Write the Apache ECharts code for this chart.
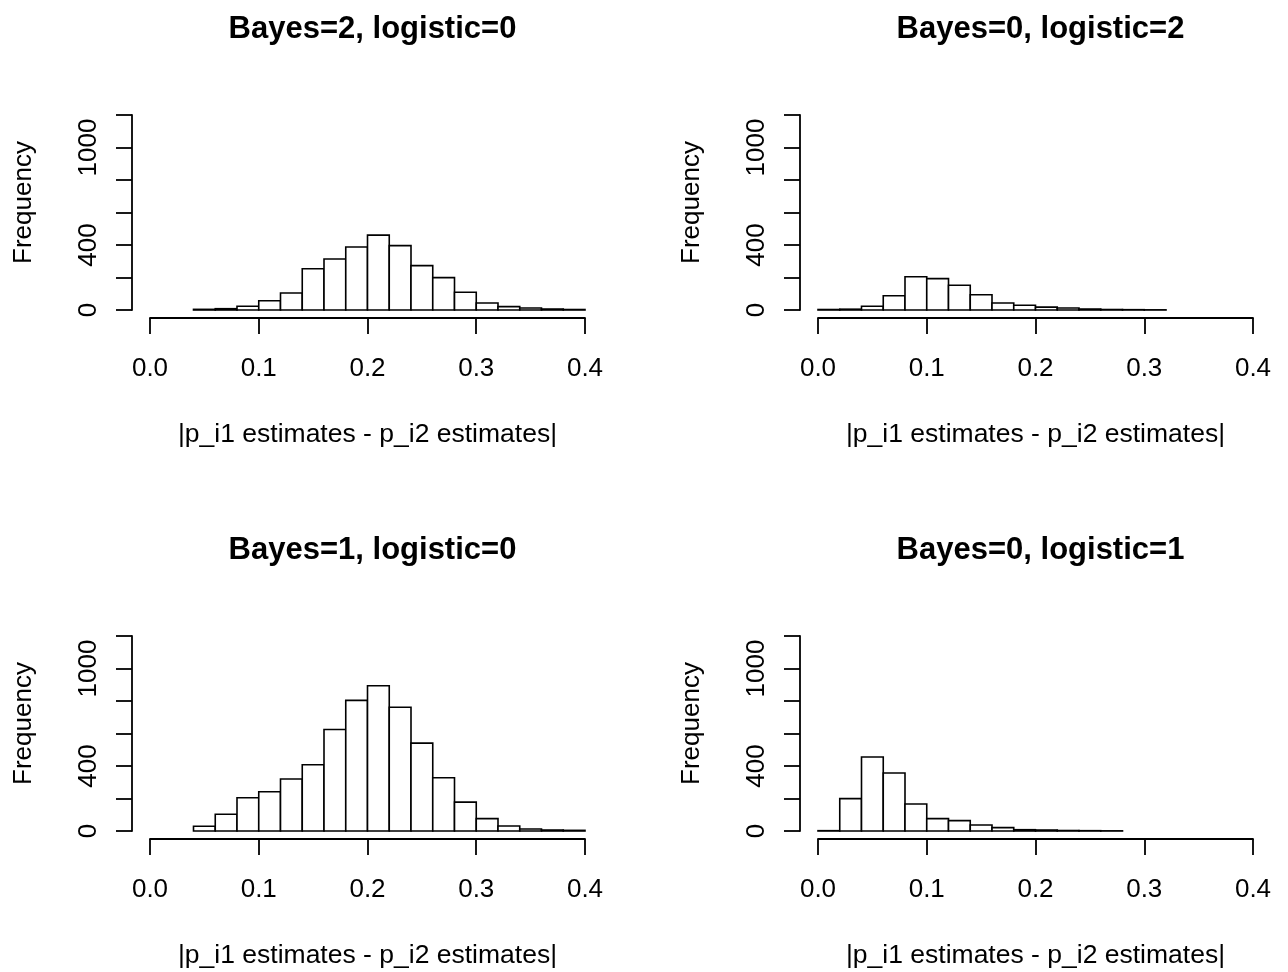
<!DOCTYPE html>
<html>
<head>
<meta charset="utf-8">
<script src="https://cdn.jsdelivr.net/npm/echarts@6/dist/echarts.min.js"></script>
<style>
  html, body { margin: 0; padding: 0; background: #fff; }
  #chart { width: 1288px; height: 972px; }
</style>
</head>
<body>
<div id="chart"></div>
<script>
// histogram bin edges and counts, one pair per panel
const breaksB2L0 = [0.04, 0.06, 0.08, 0.10, 0.12, 0.14, 0.16, 0.18, 0.20, 0.22, 0.24, 0.26, 0.28, 0.30, 0.32, 0.34, 0.36, 0.38, 0.40];
const countsB2L0 = [4, 8, 23, 57, 105, 254, 314, 388, 461, 396, 273, 199, 109, 43, 21, 12, 6, 3];

const breaksB0L2 = [0.00, 0.02, 0.04, 0.06, 0.08, 0.10, 0.12, 0.14, 0.16, 0.18, 0.20, 0.22, 0.24, 0.26, 0.28, 0.30, 0.32];
const countsB0L2 = [3, 5, 23, 88, 205, 193, 152, 94, 43, 29, 18, 12, 6, 3, 2, 1];

const breaksB1L0 = [0.04, 0.06, 0.08, 0.10, 0.12, 0.14, 0.16, 0.18, 0.20, 0.22, 0.24, 0.26, 0.28, 0.30, 0.32, 0.34, 0.36, 0.38, 0.40];
const countsB1L0 = [29, 103, 205, 242, 320, 408, 625, 804, 894, 762, 541, 328, 178, 76, 31, 12, 6, 4];

const breaksB0L1 = [0.00, 0.02, 0.04, 0.06, 0.08, 0.10, 0.12, 0.14, 0.16, 0.18, 0.20, 0.22, 0.24, 0.26, 0.28];
const countsB0L1 = [2, 199, 455, 357, 166, 76, 64, 37, 21, 8, 6, 3, 2, 1];

const panelTitles = ["Bayes=2, logistic=0", "Bayes=0, logistic=2", "Bayes=1, logistic=0", "Bayes=0, logistic=1"];
const xAxisTitle = "|p_i1 estimates - p_i2 estimates|";
const yAxisTitle = "Frequency";
const yLabelsShown = [0, 400, 1000];

const panels = [
    {breaks: breaksB2L0, counts: countsB2L0},
    {breaks: breaksB0L2, counts: countsB0L2},
    {breaks: breaksB1L0, counts: countsB1L0},
    {breaks: breaksB0L1, counts: countsB0L1},
];

const FONT = "'Liberation Sans', Arial, Helvetica, sans-serif";
const gridPos = [
    {left: 150, top: 115},
    {left: 818, top: 115},
    {left: 150, top: 636},
    {left: 818, top: 636},
];

function toBins(breaks, counts) {
    return counts.map((c, i) => [breaks[i], breaks[i + 1], c]);
}

function renderBin(params, api) {
    const topLeft = api.coord([api.value(0), api.value(2)]);
    const bottomRight = api.coord([api.value(1), 0]);
    return {
        type: "rect",
        shape: {
            x: topLeft[0],
            y: topLeft[1],
            width: bottomRight[0] - topLeft[0],
            height: bottomRight[1] - topLeft[1],
        },
        style: {fill: "#fff", stroke: "#000", lineWidth: 1.6},
    };
}

const axisLine = {show: true, onZero: false, lineStyle: {color: "#000", width: 1.8}};
const axisTick = {show: true, inside: false, length: 16, lineStyle: {color: "#000", width: 1.8}};

const option = {
    backgroundColor: "#fff",
    animation: false,
    title: panelTitles.map((t, i) => ({
        text: t,
        left: gridPos[i].left + 217.5,
        top: gridPos[i].top - 106,
        textAlign: "center",
        textStyle: {fontFamily: FONT, fontSize: 31, fontWeight: "bold", color: "#000"},
    })),
    grid: gridPos.map(p => ({left: p.left, top: p.top, width: 435, height: 195, containLabel: false})),
    xAxis: gridPos.map((p, i) => ({
        gridIndex: i,
        type: "value",
        min: 0,
        max: 0.4,
        interval: 0.1,
        offset: 8,
        name: xAxisTitle,
        nameLocation: "middle",
        nameGap: 103,
        nameTextStyle: {fontFamily: FONT, fontSize: 26.5, color: "#000"},
        axisLine: axisLine,
        axisTick: axisTick,
        splitLine: {show: false},
        axisLabel: {
            fontFamily: FONT, fontSize: 26, color: "#000", margin: 38,
            formatter: v => v.toFixed(1),
        },
    })),
    yAxis: gridPos.map((p, i) => ({
        gridIndex: i,
        type: "value",
        min: 0,
        max: 1200,
        interval: 200,
        offset: 18,
        name: yAxisTitle,
        nameLocation: "middle",
        nameGap: 95,
        nameTextStyle: {fontFamily: FONT, fontSize: 26, color: "#000", padding: [0, 0, 0, 20]},
        axisLine: axisLine,
        axisTick: axisTick,
        splitLine: {show: false},
        axisLabel: {
            fontFamily: FONT, fontSize: 26, color: "#000", margin: 30, rotate: 90,
            formatter: v => (yLabelsShown.includes(v) ? String(v) : ""),
        },
    })),
    series: panels.map((p, i) => ({
        type: "custom",
        xAxisIndex: i,
        yAxisIndex: i,
        renderItem: renderBin,
        encode: {x: [0, 1], y: 2},
        data: toBins(p.breaks, p.counts),
    })),
};

const chart = echarts.init(document.getElementById("chart"));
chart.setOption(option);
</script>
</body>
</html>
